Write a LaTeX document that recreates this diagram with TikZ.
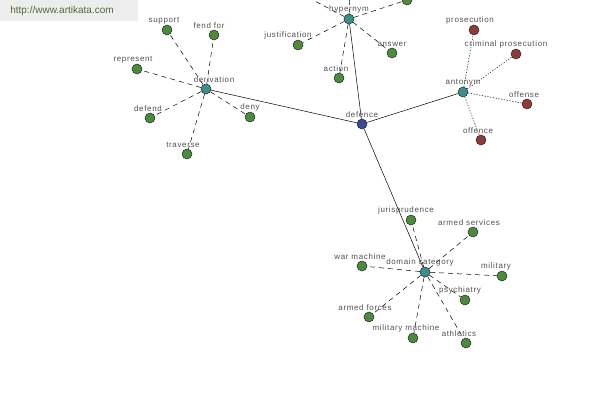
\documentclass[tikz,border=0pt]{standalone}
\usepackage{fontspec}
\setmainfont{Liberation Sans}
\newfontfamily\akfont[LetterSpace=8]{Liberation Sans}
\usetikzlibrary{backgrounds}
\definecolor{akgreen}{HTML}{4E8A3E}
\definecolor{akteal}{HTML}{3F8E8E}
\definecolor{akblue}{HTML}{3C4796}
\definecolor{akred}{HTML}{8E3B3E}
\definecolor{akink}{HTML}{1E2A1E}
\definecolor{aklabel}{HTML}{505050}
\definecolor{akmark}{HTML}{4F6B3A}
\tikzset{
  term/.style={circle,draw=akink,line width=0.5pt,minimum size=10pt,inner sep=0pt},
  leaf/.style={term,fill=akgreen},
  oppo/.style={term,fill=akred},
  rel/.style={term,fill=akteal},
  lbl/.style={font=\akfont\fontsize{8}{9}\selectfont,text=aklabel,inner sep=0.5pt},
  hub/.style={draw=black,line width=0.5pt},
  dsh/.style={draw=black,line width=0.5pt,dash pattern=on 5pt off 4pt},
  dot/.style={draw=black,line width=0.5pt,dash pattern=on 1.2pt off 1.6pt}
}
\begin{document}
\begin{tikzpicture}[x=1pt,y=-1pt]
  \useasboundingbox (0,0) rectangle (600,400);
  \clip (0,0) rectangle (600,400);
  % watermark
  \fill[black!7] (0,0) rectangle (138,21);
  \node[font=\fontsize{10}{11}\selectfont,text=akmark] (site) at (62,11) {http://www.artikata.com};

  % centre
  \node[term,fill=akblue,label={[lbl]above:defence}] (defence) at (362,124) {};

  % relations
  \node[rel,label={[lbl]above:hypernym}] (hypernym) at (349,19) {};
  \node[rel,label={[lbl,xshift=8pt]above:derivation}] (derivation) at (206,89) {};
  \node[rel,label={[lbl]above:antonym}] (antonym) at (463,92) {};
  \node[rel,label={[lbl,xshift=-5pt]above:domain category}] (domain) at (425,272) {};

  % hypernym
  \node[leaf] (hyp1) at (407,0) {};
  \coordinate (hyp2) at (290,-12);
  \coordinate (hyp3) at (351,-40);
  \node[leaf,label={[lbl,xshift=-10pt]above:justification}] (justification) at (298,45) {};
  \node[leaf,label={[lbl]above:answer}] (answer) at (392,53) {};
  \node[leaf,label={[lbl,xshift=-3pt]above:action}] (action) at (339,78) {};

  % derivation
  \node[leaf,label={[lbl,xshift=-3pt]above:support}] (support) at (167,30) {};
  \node[leaf,label={[lbl,xshift=-5pt]above:fend for}] (fendfor) at (214,35) {};
  \node[leaf,label={[lbl,xshift=-4pt]above:represent}] (represent) at (137,69) {};
  \node[leaf,label={[lbl,xshift=-2pt]above:defend}] (defend) at (150,118) {};
  \node[leaf,label={[lbl]above:deny}] (deny) at (250,117) {};
  \node[leaf,label={[lbl,xshift=-4pt]above:traverse}] (traverse) at (187,154) {};

  % antonym
  \node[oppo,label={[lbl,xshift=-4pt]above:prosecution}] (prosecution) at (474,30) {};
  \node[oppo,label={[lbl,xshift=-10pt]above:criminal prosecution}] (criminal) at (516,54) {};
  \node[oppo,label={[lbl,xshift=-3pt]above:offense}] (offense) at (527,104) {};
  \node[oppo,label={[lbl,xshift=-3pt]above:offence}] (offence) at (481,140) {};

  % domain category
  \node[leaf,label={[lbl,xshift=-5pt]above:jurisprudence}] (jurisprudence) at (411,220) {};
  \node[leaf,label={[lbl,xshift=-4pt]above:armed services}] (armedserv) at (473,232) {};
  \node[leaf,label={[lbl,xshift=-2pt]above:war machine}] (warmachine) at (362,266) {};
  \node[leaf,label={[lbl,xshift=-6pt]above:military}] (military) at (502,276) {};
  \node[leaf,label={[lbl,xshift=-5pt]above:psychiatry}] (psychiatry) at (465,300) {};
  \node[leaf,label={[lbl,xshift=-4pt]above:armed forces}] (armedforces) at (369,317) {};
  \node[leaf,label={[lbl,xshift=-7pt]above:military machine}] (milmachine) at (413,338) {};
  \node[leaf,label={[lbl,xshift=-7pt]above:athletics}] (athletics) at (466,343) {};

  \begin{scope}[on background layer]
    \foreach \r in {hypernym,derivation,antonym,domain}
      \draw[hub] (defence) -- (\r);
    \foreach \t in {hyp1,hyp2,hyp3,justification,answer,action}
      \draw[dsh] (hypernym) -- (\t);
    \foreach \t in {support,fendfor,represent,defend,deny,traverse}
      \draw[dsh] (derivation) -- (\t);
    \foreach \t in {prosecution,criminal,offense,offence}
      \draw[dot] (antonym) -- (\t);
    \foreach \t in {jurisprudence,armedserv,warmachine,military,psychiatry,armedforces,milmachine,athletics}
      \draw[dsh] (domain) -- (\t);
  \end{scope}
\end{tikzpicture}
\end{document}
